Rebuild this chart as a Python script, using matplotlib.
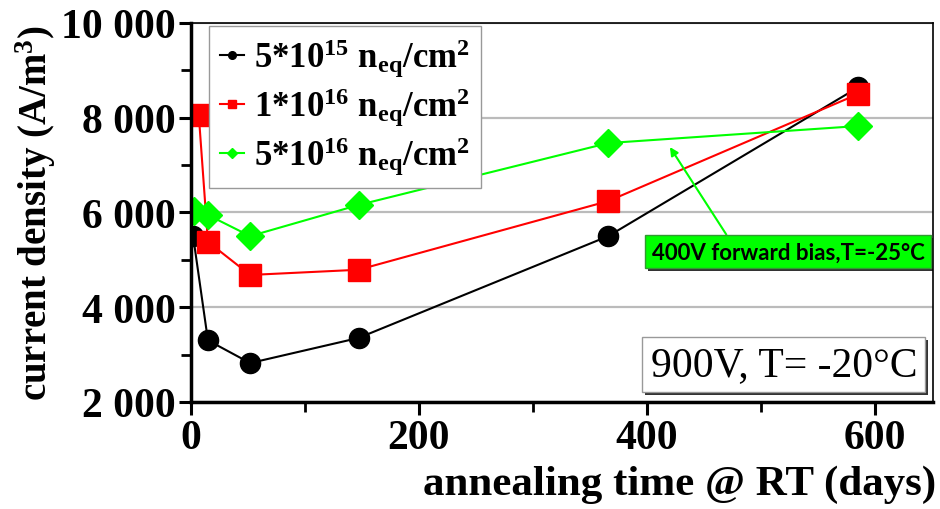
import matplotlib
matplotlib.use('Agg')
import matplotlib.pyplot as plt
import matplotlib.patheffects as pe
from matplotlib.ticker import MultipleLocator, FuncFormatter

plt.rcParams['font.family'] = ['Liberation Serif', 'DejaVu Serif']
plt.rcParams['mathtext.fontset'] = 'custom'
plt.rcParams['mathtext.default'] = 'regular'

# annealing time (days) and current density (A/m^3)
days_5e15 = [2, 15, 52, 147, 366, 585]
jd_5e15 = [5500, 3300, 2820, 3350, 5500, 8640]

days_1e16 = [7, 15, 52, 147, 366, 585]
jd_1e16 = [8050, 5380, 4680, 4790, 6240, 8500]

days_5e16 = [3, 15, 52, 147, 366, 585]
jd_5e16 = [6030, 5946, 5500, 6157, 7465, 7824]

labels = [r'5*10$^{15}$ n$_{eq}$/cm$^{2}$',
          r'1*10$^{16}$ n$_{eq}$/cm$^{2}$',
          r'5*10$^{16}$ n$_{eq}$/cm$^{2}$']

shadow = [pe.withSimplePatchShadow(offset=(2, -2), shadow_rgbFace='black', alpha=0.8)]

fig = plt.figure(figsize=(9.4, 5.1), dpi=100)
ax = fig.add_axes([0.203, 0.21, 0.79, 0.743])

ax.plot(days_5e15, jd_5e15, '-o', color='black', lw=1.5, ms=14.5, label=labels[0])
ax.plot(days_1e16, jd_1e16, '-s', color='#ff0000', lw=1.5, ms=16, label=labels[1])
ax.plot(days_5e16, jd_5e16, '-D', color='#00ff00', lw=1.5, ms=14, label=labels[2])

ax.set_xlim(0, 651)
ax.set_ylim(2000, 10000)
ax.xaxis.set_major_locator(MultipleLocator(200))
ax.xaxis.set_minor_locator(MultipleLocator(100))
ax.yaxis.set_major_locator(MultipleLocator(2000))
ax.yaxis.set_minor_locator(MultipleLocator(1000))
ax.yaxis.set_major_formatter(FuncFormatter(lambda v, p: f'{int(v):,}'.replace(',', ' ')))

ax.grid(axis='y', color='#bbbbbb', lw=1.6)
ax.set_axisbelow(True)
for side in ('left', 'bottom'):
    ax.spines[side].set_linewidth(2.5)
for side in ('top', 'right'):
    ax.spines[side].set_linewidth(1.2)
ax.tick_params(which='major', direction='out', length=9, width=2.2,
               labelsize=30, pad=2)
ax.tick_params(which='minor', direction='out', length=7, width=2)
ax.tick_params(axis='x', which='major', pad=3)
for lab in ax.get_xticklabels() + ax.get_yticklabels():
    lab.set_fontweight('bold')

ax.set_xlabel('annealing time @ RT (days)', fontsize=31, fontweight='bold',
              loc='right', labelpad=0)
ax.xaxis.set_label_coords(1.004, -0.165)
ax.set_ylabel('current density (A/m$^{3}$)', fontsize=28, fontweight='bold',
              labelpad=2)

leg = ax.legend(loc='upper left', bbox_to_anchor=(0.02, 1.0), borderaxespad=0.1,
                markerscale=0.38, handlelength=0.7, handletextpad=0.3,
                borderpad=0.3, labelspacing=0.2, fancybox=False, framealpha=1,
                prop={'size': 25, 'weight': 'bold'})
leg.get_frame().set_edgecolor('#999999')
leg.get_frame().set_linewidth(1)

box_txt = ax.text(0.978, 0.047, '900V, T= -20°C', transform=ax.transAxes,
                  ha='right', va='bottom', fontsize=30,
                  bbox=dict(boxstyle='square,pad=0.2', fc='white', ec='#999999', lw=1))
box_txt.get_bbox_patch().set_path_effects(shadow)

note = ax.annotate('400V forward bias,T=-25°C', xy=(420, 7380), xytext=(643, 5170),
                   ha='right', va='center', fontsize=16, fontweight='bold',
                   family=['Lato', 'DejaVu Sans'],
                   bbox=dict(boxstyle='square,pad=0.28', fc='#00ff00', ec='#339933', lw=1),
                   arrowprops=dict(arrowstyle='-|>', color='#00ff00', lw=1.5,
                                   mutation_scale=12, shrinkA=0, shrinkB=0,
                                   relpos=(0.29, 1.0)))
note.get_bbox_patch().set_path_effects(shadow)

fig.savefig('out.png', dpi=100)
